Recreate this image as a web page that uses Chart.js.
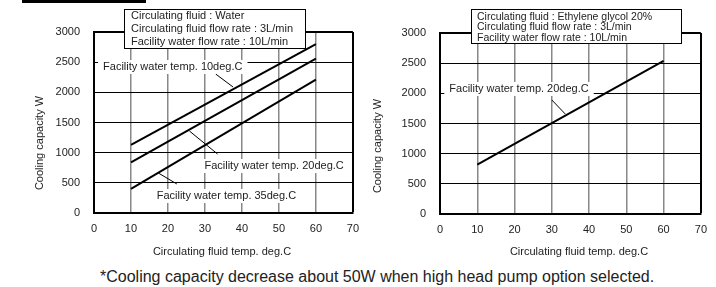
<!DOCTYPE html>
<html>
<head>
<meta charset="utf-8">
<script src="https://cdn.jsdelivr.net/npm/chart.js@4/dist/chart.umd.min.js"></script>
<style>
    body { margin: 0; background: #fff; width: 716px; height: 287px; position: relative; overflow: hidden; font-family: Arial, "Liberation Sans", sans-serif; }
    canvas { position: absolute; top: 0; }
    #waterChart { left: 0; }
    #glycolChart { left: 360px; }
    .top-bar { position: absolute; left: 22px; top: 0; width: 124px; height: 3px; background: #000; }
    .footnote { position: absolute; left: 100px; top: 268px; font-size: 16px; line-height: 18px; color: #222; white-space: nowrap; }
</style>
</head>
<body>
<div class="top-bar"></div>
<canvas id="waterChart" width="368" height="265"></canvas>
<canvas id="glycolChart" width="356" height="265"></canvas>
<div class="footnote">*Cooling capacity decrease about 50W when high head pump option selected.</div>

<script>
// circulating fluid temp (deg.C) at the ends of each line
const fluidTemps = [10, 60];

// cooling capacity (W), water as circulating fluid
const capWater10 = [1130, 2800];
const capWater20 = [840, 2560];
const capWater35 = [400, 2210];

// cooling capacity (W), ethylene glycol 20%
const capGlycol20 = [820, 2540];

const tempTicks = [0, 10, 20, 30, 40, 50, 60, 70];
const capTicks = [0, 500, 1000, 1500, 2000, 2500, 3000];

Chart.defaults.font.family = 'Arial, "Liberation Sans", sans-serif';
Chart.defaults.font.size = 11;
Chart.defaults.color = '#222';

function toPoints(xs, ys) {
    return xs.map((x, i) => ({ x: x, y: ys[i] }));
}

// boxes, labels with leader lines and axis titles
const notesPlugin = {
    id: 'notes',
    afterDraw(chart, args, opts) {
        const ctx = chart.ctx;
        const xs = chart.scales.x;
        const ys = chart.scales.y;
        const family = 'Arial, "Liberation Sans", sans-serif';
        ctx.save();
        ctx.font = '11px ' + family;

        opts.labels.forEach((lb) => {
            ctx.strokeStyle = '#000';
            ctx.lineWidth = 1;
            ctx.beginPath();
            ctx.moveTo(xs.getPixelForValue(lb.from[0]), ys.getPixelForValue(lb.from[1]));
            ctx.lineTo(xs.getPixelForValue(lb.to[0]), ys.getPixelForValue(lb.to[1]));
            ctx.stroke();

            const cx = xs.getPixelForValue(lb.x);
            const cy = ys.getPixelForValue(lb.y);
            const w = ctx.measureText(lb.text).width + 10;
            ctx.fillStyle = '#fff';
            ctx.fillRect(cx - w / 2, cy - 7, w, 14);
            ctx.fillStyle = '#222';
            ctx.textAlign = 'center';
            ctx.textBaseline = 'middle';
            ctx.fillText(lb.text, cx, cy);
        });

        const b = opts.box;
        ctx.fillStyle = '#fff';
        ctx.fillRect(b.x, b.y, b.w, b.h);
        ctx.strokeStyle = '#000';
        ctx.lineWidth = 1;
        ctx.strokeRect(b.x + 0.5, b.y + 0.5, b.w, b.h);
        ctx.fillStyle = '#222';
        ctx.textAlign = 'left';
        ctx.textBaseline = 'middle';
        ctx.font = b.fontSize + 'px ' + family;
        b.lines.forEach((t, i) => ctx.fillText(t, b.textX, b.lineY[i]));

        ctx.font = '11px ' + family;
        ctx.textAlign = 'center';
        ctx.fillText(opts.xTitle.text, opts.xTitle.x, opts.xTitle.y);
        ctx.translate(opts.yTitle.x, opts.yTitle.y);
        ctx.rotate(-Math.PI / 2);
        ctx.fillText(opts.yTitle.text, 0, 0);
        ctx.restore();
    }
};

function makeChart(id, datasets, layout, notes) {
    const ctx = document.getElementById(id).getContext('2d');
    return new Chart(ctx, {
        type: 'line',
        data: {
            datasets: datasets.map((d) => ({
                data: toPoints(fluidTemps, d),
                borderColor: '#000',
                borderWidth: 2,
                pointRadius: 0,
                fill: false
            }))
        },
        options: {
            responsive: false,
            animation: false,
            layout: { padding: { top: layout.top, right: layout.right, left: 0, bottom: 0 } },
            plugins: {
                legend: { display: false },
                tooltip: { enabled: false },
                notes: notes
            },
            scales: {
                x: {
                    type: 'linear',
                    min: tempTicks[0],
                    max: tempTicks[tempTicks.length - 1],
                    afterFit: (scale) => { scale.height = layout.xHeight; },
                    ticks: { stepSize: 10, padding: 9, callback: (v) => String(v) },
                    grid: {
                        drawTicks: false,
                        color: (c) => c.tick && c.tick.value === 70 ? '#000' : '#888',
                        lineWidth: (c) => c.tick && c.tick.value === 70 ? 2 : 1.5
                    },
                    border: { color: '#000', width: 2 }
                },
                y: {
                    min: capTicks[0],
                    max: capTicks[capTicks.length - 1],
                    afterFit: (scale) => { scale.width = layout.yWidth; },
                    ticks: { stepSize: 500, padding: 14, callback: (v) => String(v) },
                    grid: {
                        drawTicks: false,
                        color: '#000',
                        lineWidth: (c) => c.tick && c.tick.value === 3000 ? 2 : 1
                    },
                    border: { color: '#000', width: 2 }
                }
            }
        },
        plugins: [notesPlugin]
    });
}

makeChart('waterChart', [capWater10, capWater20, capWater35],
    { top: 32, right: 8, xHeight: 52, yWidth: 94 },
    {
        box: {
            x: 124, y: 9, w: 181, h: 39, textX: 131, lineY: [16, 29, 42], fontSize: 11,
            lines: ['Circulating fluid : Water', 'Circulating fluid flow rate : 3L/min', 'Facility water flow rate : 10L/min']
        },
        labels: [
            { text: 'Facility water temp. 10deg.C', x: 21.3, y: 2420, from: [32.9, 2304], to: [37.6, 2088] },
            { text: 'Facility water temp. 20deg.C', x: 48.7, y: 779, from: [25.8, 1359], to: [33.4, 978] },
            { text: 'Facility water temp. 35deg.C', x: 35.8, y: 282, from: [17.4, 663], to: [22.4, 481] }
        ],
        xTitle: { text: 'Circulating fluid temp. deg.C', x: 222, y: 252 },
        yTitle: { text: 'Cooling capacity W', x: 40, y: 143 }
    });

makeChart('glycolChart', [capGlycol20],
    { top: 33, right: 9, xHeight: 51, yWidth: 80 },
    {
        box: {
            x: 111, y: 9, w: 210, h: 34, textX: 117, lineY: [17, 27.5, 38], fontSize: 10.5,
            lines: ['Circulating fluid : Ethylene glycol 20%', 'Circulating fluid flow rate : 3L/min', 'Facility water flow rate : 10L/min']
        },
        labels: [
            { text: 'Facility water temp. 20deg.C', x: 21.2, y: 2072, from: [30.0, 1890], to: [33.6, 1658] }
        ],
        xTitle: { text: 'Circulating fluid temp. deg.C', x: 219, y: 252 },
        yTitle: { text: 'Cooling capacity W', x: 18, y: 146 }
    });
</script>
</body>
</html>
